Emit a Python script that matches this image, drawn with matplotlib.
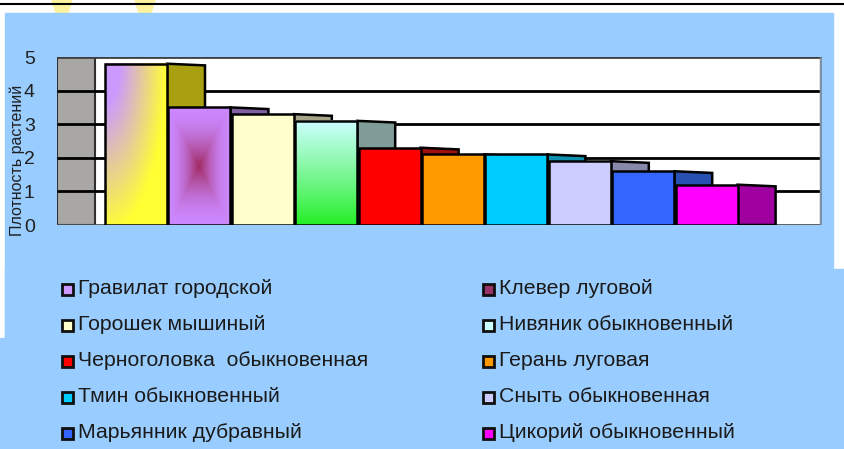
import numpy as np
import matplotlib
matplotlib.use("Agg")
import matplotlib.pyplot as plt
from matplotlib.patches import Rectangle, Polygon
from matplotlib.colors import to_rgb

plt.rcParams['font.family'] = ['Liberation Sans', 'DejaVu Sans']

# данные
names = ["Гравилат городской", "Клевер луговой", "Горошек мышиный",
         "Нивяник обыкновенный", "Черноголовка  обыкновенная", "Герань луговая",
         "Тмин обыкновенный", "Сныть обыкновенная", "Марьянник дубравный",
         "Цикорий обыкновенный"]
density = [4.8, 3.5, 3.3, 3.1, 2.3, 2.1, 2.1, 1.9, 1.6, 1.2]
front_colors = ["#FFFF33", "#CC99FF", "#FFFFCC", "#CCFFFF", "#FF0000",
                "#FF9900", "#00CCFF", "#CCCCFF", "#3366FF", "#FF00FF"]
side_colors = ["#A8A010", "#7F5F9F", "#A8A488", "#809C98", "#A01010",
               "#B06800", "#1090B0", "#8888AA", "#2850B0", "#A000A0"]
legend_colors = ["#CC99FF", "#993366", "#FFFFCC", "#CCFFFF", "#FF0000",
                 "#FF9900", "#00CCFF", "#CCCCFF", "#3366FF", "#FF00FF"]
yticks = [0, 1, 2, 3, 4, 5]
ylabel = "Плотность растений"

W, H = 845, 449
BLUE = "#99CCFF"
fig = plt.figure(figsize=(W / 100, H / 100), dpi=100, facecolor="white")


def fx(px):
    return px / W


def fy(py):
    return 1 - py / H


# фон слайда
fig.patches.append(Rectangle((fx(5), fy(449)), fx(828), 436 / H, transform=fig.transFigure,
                             color=BLUE, zorder=-2))
fig.patches.append(Rectangle((fx(5), fy(449)), fx(840), 180 / H, transform=fig.transFigure,
                             color=BLUE, zorder=-2))
fig.patches.append(Rectangle((0, fy(449)), fx(6), 111 / H, transform=fig.transFigure,
                             color=BLUE, zorder=-2))
for x0 in (52, 135):
    fig.patches.append(Polygon([(fx(x0), fy(0)), (fx(x0 + 20), fy(0)), (fx(x0 + 16), fy(13)),
                                (fx(x0 + 4), fy(13))],
                               transform=fig.transFigure, color="#FFF3A0", zorder=-3))
fig.lines.append(plt.Line2D([0, 1], [fy(4), fy(4)], transform=fig.transFigure,
                            color="black", lw=1.5, zorder=-1))

# область диаграммы
slot = 63.4
ax = fig.add_axes([fx(57), fy(225), (822 - 57) / W, (225 - 57) / H])
ax.set_zorder(1)
x_left, x_right = (57 - 105) / slot, (822 - 105) / slot
ax.set_xlim(x_left, x_right)
ax.set_ylim(0, 5)
ax.set_facecolor("white")
for s in ax.spines.values():
    s.set_visible(False)
ax.set_xticks([])
ax.set_yticks(yticks)
ax.tick_params(axis="y", length=0, pad=16, labelsize=14, labelcolor="#202020")

wall_r = (95 - 105) / slot
ax.add_patch(Rectangle((x_left, 0), wall_r - x_left, 5, facecolor="#A9A7A5",
                       edgecolor="#303030", lw=1.5, zorder=1))
ax.hlines(yticks[1:-1], x_left, x_right, color="black", lw=2, zorder=1.5)
ax.hlines([5], x_left, x_right, color="#404040", lw=2, zorder=1.5)
ax.hlines([0], x_left, x_right, color="#505050", lw=2, zorder=1.5)
ax.vlines([x_right - 0.01], 0, 5, color="#8090A0", lw=2.5, zorder=1.5)

bw, depth, drop = 62 / slot, 38 / slot, 0.05


def grad_img(kind, ny=120, nx=60):
    u = np.linspace(0, 1, nx)[None, :]
    s = np.linspace(1, 0, ny)[:, None]  # 1 = верх
    if kind == 0:
        dx = u * 62 / 62
        dy = (1 - s) * 162 / 170
        w = np.clip(1.3 * (1 - np.sqrt(dx ** 2 + dy ** 2)), 0, 1)
        c1, c2 = np.array(to_rgb("#CC99FF")), np.array(to_rgb("#FFFF33"))
    elif kind == 1:
        w = 1 - np.maximum(np.abs(u - 0.5) * 2, np.abs(s - 0.5) * 2)
        w = np.clip(w, 0, 1) ** 1.8
        c1, c2 = np.array(to_rgb("#A02A60")), np.array(to_rgb("#CC88FF"))
    else:
        w = np.clip(s, 0, 1) ** 0.9 * np.ones_like(u)
        c1, c2 = np.array(to_rgb("#CCFFFF")), np.array(to_rgb("#22EE22"))
    return w[..., None] * c1 + (1 - w[..., None]) * c2


gradients = {0: 0, 1: 1, 3: 2}

for i, v in enumerate(density):
    x0 = i
    side = Polygon([(x0 + bw, 0), (x0 + bw + depth, 0), (x0 + bw + depth, v - drop),
                    (x0 + bw, v)], facecolor=side_colors[i], edgecolor="black",
                   lw=1.8, zorder=2)
    ax.add_patch(side)
    if i in gradients:
        ax.imshow(grad_img(gradients[i]), extent=(x0, x0 + bw, 0, v), aspect="auto",
                  zorder=3, interpolation="bilinear")
        ax.add_patch(Rectangle((x0, 0), bw, v, facecolor="none", edgecolor="black",
                               lw=1.8, zorder=3.5))
    else:
        ax.add_patch(Rectangle((x0, 0), bw, v, facecolor=front_colors[i],
                               edgecolor="black", lw=1.8, zorder=3))

ax.set_xlim(x_left, x_right)
ax.set_ylim(0, 5)

fig.text(fx(17), fy(160), ylabel, rotation=90, ha="center", va="center",
         fontsize=11.5, color="#202020")

# легенда
for k, name in enumerate(names):
    col, row = k % 2, k // 2
    mx = 62 + col * 421
    my = 289 + row * 36
    fig.patches.append(Rectangle((fx(mx), fy(my + 6)), 11 / W, 11 / H,
                                 transform=fig.transFigure, facecolor=legend_colors[k],
                                 edgecolor="#101010", lw=2, zorder=3))
    fig.text(fx(mx + 16), fy(my), name, ha="left", va="center", fontsize=15.3,
             color="#1a1a1a")

fig.savefig("out.png", dpi=100, facecolor="white")
